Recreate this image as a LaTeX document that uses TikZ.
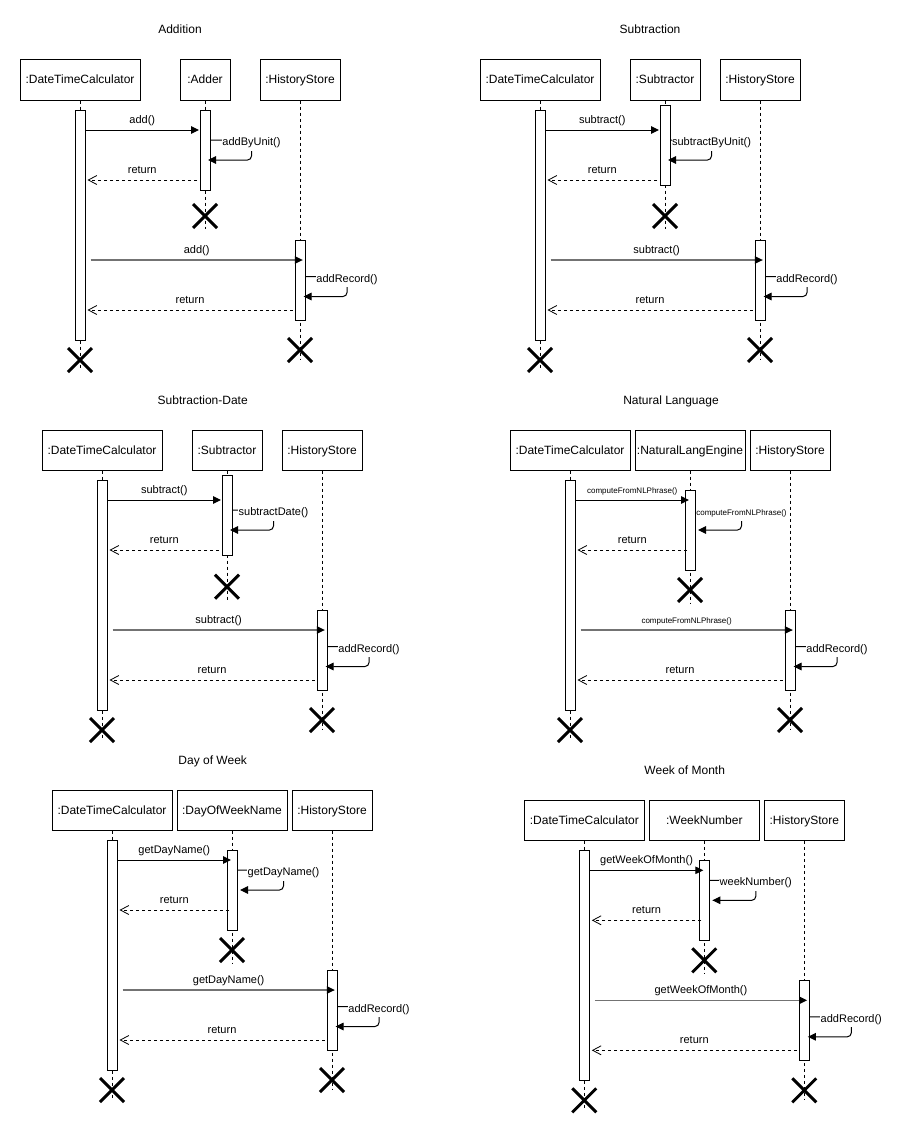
\documentclass[tikz,border=0pt]{standalone}
\usepackage{fontspec}
\setmainfont{Liberation Sans}
\usetikzlibrary{arrows.meta,calc,shapes.misc}

\definecolor{callgray}{gray}{0.45}
\newcommand\seqboxfont{\fontsize{12}{14}\selectfont}
\newcommand\seqmsgfont{\fontsize{11}{13}\selectfont}
\newcommand\seqsmallfont{\fontsize{8}{10}\selectfont}

\tikzset{
  participant/.style={draw, line width=1pt, fill=white, inner sep=0pt,
    minimum height=40pt, text height=9pt, text depth=1pt, font=\seqboxfont},
  paneltitle/.style={anchor=base, inner sep=0pt, font=\seqboxfont},
  lifeline/.style={line width=1pt, dash pattern=on 3pt off 3pt},
  activation/.style={draw, line width=1pt, fill=white, minimum width=10pt,
    inner sep=0pt, anchor=north},
  syncmsg/.style={line width=1pt, -{Triangle[length=8pt,width=7.5pt]}},
  syncmsglong/.style={draw=callgray, line width=1.6pt,
    -{Triangle[length=8pt,width=7.5pt,color=black,line width=1pt]}},
  selfmsg/.style={line width=1pt, rounded corners=4pt,
    -{Triangle[length=8pt,width=7.5pt]}},
  replymsg/.style={line width=1pt, dash pattern=on 3pt off 3pt,
    -{Straight Barb[length=8.5pt,width=9pt,line width=0.8pt]}},
  msglabel/.style={anchor=base, yshift=7pt, inner sep=0pt, font=\seqmsgfont},
  selflabel/.style={anchor=base, fill=white, inner xsep=0.5pt, inner ysep=1pt,
    text height=8.5pt, text depth=4pt, font=\seqmsgfont},
  destroy/.style={cross out, draw, line width=3pt, minimum size=21pt, inner sep=0pt},
}

% One sequence diagram, local origin at the top-left corner of the
% :DateTimeCalculator box.
% #1 title, #2 title x, #3/#4 left/right edge of the middle participant,
% #5 its label, #6 top of its activation, #7 its destruction y,
% #8 the call message, #9 the internal self call
\newcommand\seqpanel[9]{%
  \pgfmathsetmacro\cB{(#3+#4)/2}%
  \pgfmathsetmacro\wB{#4-#3}%
  \pgfmathsetmacro\nB{182.5-\cB}%
  \pgfmathsetmacro\tipB{2+\nB}%
  \node[paneltitle] (title) at (#2,-26) {#1};
  \node[participant, minimum width=120pt] (client) at (60,20) {:DateTimeCalculator};
  \node[participant, minimum width=\wB pt] (worker) at (\cB,20) {#5};
  \node[participant, minimum width=80pt] (store) at (280,20) {:HistoryStore};
  % lifelines
  \coordinate (clientEnd) at (60,310);
  \coordinate (workerEnd) at (\cB,#7+13);
  \coordinate (storeEnd) at (280,300);
  \draw[lifeline] (client.south) -- (clientEnd);
  \draw[lifeline] (worker.south) -- (workerEnd);
  \draw[lifeline] (store.south) -- (storeEnd);
  % activation bars
  \node[activation, minimum height=230pt] (clientAct) at (60,50) {};
  \node[activation, minimum height=80pt] (workerAct) at (\cB,#6) {};
  \node[activation, minimum height=80pt] (storeAct) at (280,180) {};
  % first exchange
  \draw[syncmsg] (clientAct.east |- 0,70) -- node[msglabel] (callLbl) {#8}
    ($(workerAct.west |- 0,70)+(\tipB,0)$);
  \draw[selfmsg] (workerAct.east |- 0,80) -- (231.5,80) -- (231.5,100)
    -- ($(workerAct.east |- 0,100)+(\nB,0)$);
  \node[selflabel] (selfLbl) at (231.5,85.5) {#9};
  \draw[replymsg] ($(workerAct.west |- 0,120)+(\nB,0)$) -- node[msglabel] (backLbl) {return}
    ($(clientAct.east |- 0,120)+(2,0)$);
  % second exchange
  \draw[syncmsglong] ($(clientAct.east |- 0,200)+(5,0)$) -- node[msglabel] (storeLbl) {#8}
    ($(storeAct.west |- 0,200)+(8.3,0)$);
  \draw[selfmsg] (storeAct.east |- 0,216.5) -- (327,216.5) -- (327,236.5)
    -- ($(storeAct.east |- 0,236.5)+(-2,0)$);
  \node[selflabel] (recordLbl) at (327,222) {addRecord()};
  \draw[replymsg] ($(storeAct.west |- 0,250)+(-2,0)$) -- node[msglabel] (doneLbl) {return}
    ($(clientAct.east |- 0,250)+(2,0)$);
  % destruction marks
  \node[destroy] (clientX) at (60,300) {};
  \node[destroy] (workerX) at (\cB,#7) {};
  \node[destroy] (storeX) at (280,290) {};
}

\begin{document}
\begin{tikzpicture}[x=1pt, y=-1pt]
  \fill[white] (0,0) rectangle (902,1132);
  \useasboundingbox (0,0) rectangle (902,1132);

  \begin{scope}[shift={(20,60)}, name prefix=add-]
    \seqpanel{Addition}{160}{160}{210}{:Adder}{50}{156}{add()}{addByUnit()}
  \end{scope}

  \begin{scope}[shift={(480,60)}, name prefix=sub-]
    \seqpanel{Subtraction}{170}{150}{220}{:Subtractor}{45}{156}{subtract()}{subtractByUnit()}
  \end{scope}

  \begin{scope}[shift={(42,430)}, name prefix=subdate-]
    \seqpanel{Subtraction-Date}{160.7}{150}{220}{:Subtractor}{45}{156.7}{subtract()}{subtractDate()}
  \end{scope}

  \begin{scope}[shift={(510,430)}, name prefix=nl-]
    \seqpanel{Natural Language}{161}{125}{235}{:NaturalLangEngine}{60}{160}%
      {\seqsmallfont computeFromNLPhrase()}{\seqsmallfont computeFromNLPhrase()}
  \end{scope}

  \begin{scope}[shift={(52,790)}, name prefix=dow-]
    \seqpanel{Day of Week}{160.7}{125}{235}{:DayOfWeekName}{60}{160}{getDayName()}{getDayName()}
  \end{scope}

  \begin{scope}[shift={(524.3,800.3)}, name prefix=wom-]
    \seqpanel{Week of Month}{160.4}{125}{235}{:WeekNumber}{60}{160}{getWeekOfMonth()}{weekNumber()}
  \end{scope}
\end{tikzpicture}
\end{document}
